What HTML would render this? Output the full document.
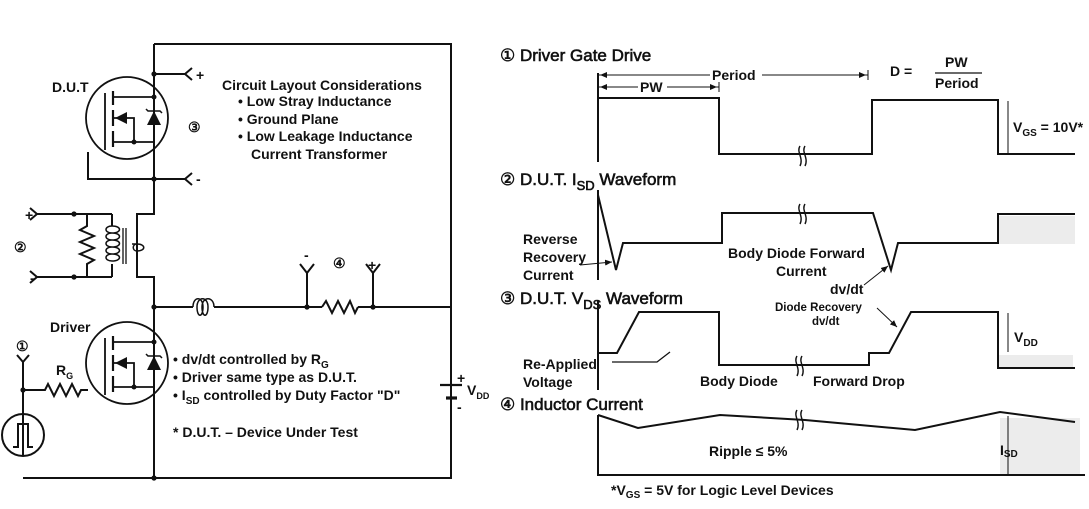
<!DOCTYPE html>
<html><head><meta charset="utf-8"><style>
html,body{margin:0;padding:0;background:#fff;}
svg{display:block;}
text{font-family:"Liberation Sans",Arial,sans-serif;fill:#111;}
.t{font-size:14px;font-weight:bold;}
.h{font-size:17px;stroke:#111;stroke-width:0.6;}
.s{font-size:11.5px;font-weight:bold;}
.f{font-size:14px;font-weight:bold;}
</style></head><body>
<svg width="1089" height="509" viewBox="0 0 1089 509" xmlns="http://www.w3.org/2000/svg">
<defs>
<marker id="ah" markerWidth="8" markerHeight="8" refX="7" refY="4" orient="auto" markerUnits="userSpaceOnUse"><path d="M0,1 L7,4 L0,7 Z" fill="#111"/></marker>
<g id="mos">
<circle cx="0" cy="0" r="41" fill="none" stroke="#111" stroke-width="1.8"/>
<line x1="-22" y1="-25" x2="-22" y2="32" stroke="#111" stroke-width="1.8"/>
<line x1="-14" y1="-27" x2="-14" y2="-13" stroke="#111" stroke-width="2.2"/>
<line x1="-14" y1="-8" x2="-14" y2="8" stroke="#111" stroke-width="2.2"/>
<line x1="-14" y1="13" x2="-14" y2="29" stroke="#111" stroke-width="2.2"/>
<path d="M-14,-21 H27 M-14,24 H27 M-14,0 H7 V24" fill="none" stroke="#111" stroke-width="1.8"/>
<path d="M-12,0 L0,-6 L0,6 Z" fill="#111"/>
<circle cx="7" cy="24" r="2.5" fill="#111"/>
<circle cx="27" cy="-21" r="2.5" fill="#111"/>
<path d="M20,7 L34,7 L27,-7 Z" fill="#111"/>
<path d="M19,-9 L21,-7 H33 L35,-5" fill="none" stroke="#111" stroke-width="1.5"/>
</g>
</defs>
<g fill="#ececec">
<rect x="999" y="216" width="76" height="28"/>
<rect x="999" y="355" width="74" height="12"/>
<rect x="1000" y="418" width="80" height="56"/>
</g>
<g fill="none" stroke="#111" stroke-width="2">
<path d="M154,44 H451 V478 H23 M154,44 V214 H137 V277 H154 V478"/>
<path d="M154,74 H185 M192,68 L185,74 L192,80"/>
<path d="M154,179 H185 M192,173 L185,179 L192,185"/>
<path d="M88,152 V179 H154"/>
<path d="M37,214 H112 M37,277 H112 M30,208 L37,214 L30,220 M30,271 L37,277 L30,283"/>
<path d="M87,214 V226 L80,230 L94,236 L80,242 L94,248 L80,254 L94,260 L87,264 V277"/>
<path d="M112,214 V226 M112,264 V277"/>
<path d="M112,226 C122,226 122,233 112,233 C104,233 104,226 112,226 M112,233 C122,233 122,240 112,240 C104,240 104,233 112,233 M112,240 C122,240 122,247 112,247 C104,247 104,240 112,240 M112,247 C122,247 122,254 112,254 C104,254 104,247 112,247 M112,254 C122,254 122,261 112,261 C104,261 104,254 112,254" stroke-width="1.5"/>
<path d="M123,228 V264 M126,228 V264" stroke-width="1.3"/>
<path d="M137,244 H132 M137,244 C146,244 146,251 137,251 C132,251 132,244 137,244" stroke-width="1.5"/>
<path d="M154,307 H193 M214,307 H322 M358,307 H451"/>
<path d="M193,307 C193,296 203,296 203,307 C203,318 197,318 197,307 C197,296 208,296 208,307 C208,318 202,318 202,307 C202,296 214,296 214,307" stroke-width="1.5"/>
<path d="M322,307 L326,301 L332,313 L338,301 L344,313 L350,301 L355,313 L358,307"/>
<path d="M307,307 V273 M300,264 L307,273 L314,264 M373,307 V273 M366,264 L373,273 L380,264"/>
<path d="M451,307 V385 M451,398 V478" />
<path d="M440,385 H462" stroke-width="2.2"/>
<path d="M446,398 H457" stroke-width="3.2"/>
<path d="M23,362 V456 M17,355 L23,362 L29,355 M23,390 H45 L48,384 L54,396 L60,384 L66,396 L72,384 L78,396 L81,390 H88"/>
<circle cx="23" cy="435" r="21"/>
<path d="M13,447 H18 V424 H28 V447 H33"/>
</g>
<g fill="#111">
<circle cx="154" cy="74" r="2.6"/><circle cx="154" cy="179" r="2.6"/><circle cx="154" cy="307" r="2.6"/><circle cx="154" cy="478" r="2.6"/>
<circle cx="74" cy="214" r="2.6"/><circle cx="74" cy="277" r="2.6"/><circle cx="307" cy="307" r="2.6"/><circle cx="373" cy="307" r="2.6"/><circle cx="23" cy="390" r="2.6"/>
</g>
<use href="#mos" x="127" y="118"/>
<use href="#mos" x="127" y="363"/>
<text class="t" x="52" y="92">D.U.T</text>
<text class="t" x="196" y="80">+</text>
<text class="t" x="196" y="184">-</text>
<text class="t" x="188" y="132">③</text>
<text class="t" x="222" y="90">Circuit Layout Considerations</text>
<text class="t" x="238" y="106">• Low Stray Inductance</text>
<text class="t" x="238" y="124">• Ground Plane</text>
<text class="t" x="238" y="141">• Low Leakage Inductance</text>
<text class="t" x="251" y="159">Current Transformer</text>
<text class="t" x="25" y="220">+</text>
<text class="t" x="30" y="283">-</text>
<text class="t" x="14" y="252">②</text>
<text class="t" x="304" y="260">-</text>
<text class="t" x="333" y="268">④</text>
<text class="t" x="368" y="270">+</text>
<text class="t" x="457" y="383">+</text>
<text class="t" x="457" y="412">-</text>
<text class="t" x="467" y="395">V<tspan font-size="9" dy="4">DD</tspan></text>
<text class="t" x="50" y="332">Driver</text>
<text class="t" x="16" y="351">①</text>
<text class="t" x="56" y="375">R<tspan font-size="9" dy="4">G</tspan></text>
<text class="t" x="173" y="364">• dv/dt controlled by R<tspan font-size="10" dy="4">G</tspan></text>
<text class="t" x="173" y="382">• Driver same type as D.U.T.</text>
<text class="t" x="173" y="400">• I<tspan font-size="10" dy="4">SD</tspan><tspan dy="-4"> controlled by Duty Factor "D"</tspan></text>
<text class="t" x="173" y="437">* D.U.T. – Device Under Test</text>

<g fill="none" stroke="#111" stroke-width="2">
<path d="M598,73 V162"/>
<path d="M598,98 H719 V154 H872 V100 H998 V154 H1075"/>
<path d="M598,75 H710 M762,75 H868 M598,87 H638 M667,87 H719 M868,70 V80 M719,82 V92" stroke-width="1"/>
<path d="M935,73 H982" stroke-width="1.3"/>
<path d="M1008,101 V153" stroke-width="1"/>
<path d="M598,190 V280"/>
<path d="M598,195 L616,270 L623,243 H722 V213 H873 L891,270 L898,243 H998 V214 H1075"/>
<path d="M598,300 V390"/>
<path d="M598,353 H617 L639,312 H719 V365 H869 V353 H889 L911,312 H998 V368 H1075"/>
<path d="M1008,313 V352" stroke-width="1"/>
<path d="M598,415 V475 H1085"/>
<path d="M598,415 L638,428 L720,415 L805,420 L915,430 L1000,412 L1075,422"/>
<path d="M1008,416 V474" stroke-width="1"/>
<path d="M612,362 H657 L670,352" stroke-width="1.3"/>
</g>
<g stroke="#111" stroke-width="1" fill="none" marker-end="url(#ah)">
<line x1="710" y1="75" x2="600" y2="75"/>
<line x1="762" y1="75" x2="866" y2="75"/>
<line x1="638" y1="87" x2="600" y2="87"/>
<line x1="667" y1="87" x2="717" y2="87"/>
<line x1="864" y1="285" x2="888" y2="266"/>
<line x1="877" y1="308" x2="897" y2="327"/>
<line x1="580" y1="265" x2="612" y2="262"/>
</g>
<g fill="none" stroke="#111" stroke-width="1.4">
<path d="M800,146 C796,152 804,158 800,166 M805,146 C801,152 809,158 805,166"/>
<path d="M800,204 C796,210 804,216 800,224 M805,204 C801,210 809,216 805,224"/>
<path d="M797,356 C793,362 801,368 797,376 M802,356 C798,362 806,368 802,376"/>
<path d="M797,410 C793,416 801,422 797,430 M802,410 C798,416 806,422 802,430"/>
</g>

<text class="h" x="500" y="61">① Driver Gate Drive</text>
<text class="t" x="712" y="80">Period</text>
<text class="t" x="640" y="92">PW</text>
<text class="t" x="890" y="76">D =</text>
<text class="t" x="945" y="67">PW</text>
<text class="t" x="935" y="88">Period</text>
<text class="t" x="1013" y="132">V<tspan font-size="10" dy="4">GS</tspan><tspan dy="-4"> = 10V*</tspan></text>
<text class="h" x="500" y="185">② D.U.T. I<tspan font-size="13" dy="5">SD</tspan><tspan dy="-5"> Waveform</tspan></text>
<text class="t" x="523" y="244">Reverse</text>
<text class="t" x="523" y="262">Recovery</text>
<text class="t" x="523" y="280">Current</text>
<text class="t" x="728" y="258">Body Diode Forward</text>
<text class="t" x="776" y="276">Current</text>
<text class="t" x="830" y="294">dv/dt</text>
<text class="h" x="500" y="304">③ D.U.T. V<tspan font-size="13" dy="5">DS</tspan><tspan dy="-5"> Waveform</tspan></text>
<text class="s" x="775" y="311">Diode Recovery</text>
<text class="s" x="812" y="325">dv/dt</text>
<text class="t" x="523" y="369">Re-Applied</text>
<text class="t" x="523" y="387">Voltage</text>
<text class="t" x="700" y="386">Body Diode</text>
<text class="t" x="813" y="386">Forward Drop</text>
<text class="t" x="1014" y="342">V<tspan font-size="10" dy="4">DD</tspan></text>
<text class="h" x="500" y="410">④ Inductor Current</text>
<text class="t" x="709" y="456">Ripple ≤ 5%</text>
<text class="t" x="1000" y="455">I<tspan font-size="10" dy="2">SD</tspan></text>
<text class="f" x="611" y="495">*V<tspan font-size="10" dy="3">GS</tspan><tspan dy="-3"> = 5V for Logic Level Devices</tspan></text>
</svg>
</body></html>
